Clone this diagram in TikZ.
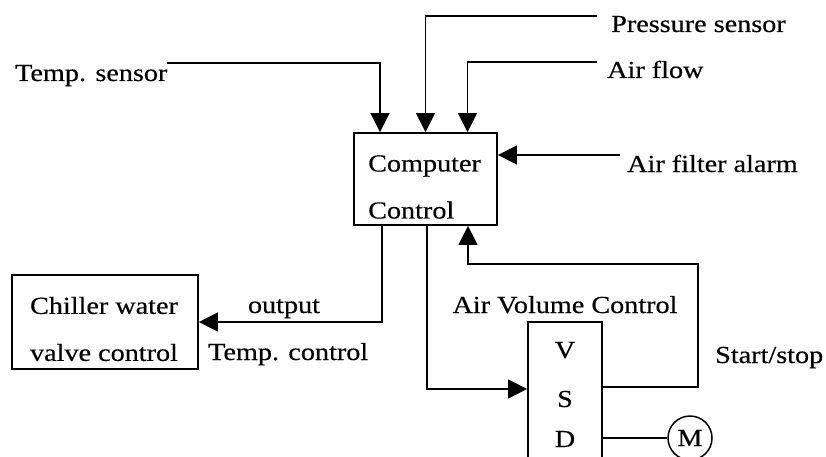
\documentclass[tikz,border=0pt]{standalone}
\usepackage{fontspec}
\setmainfont{Liberation Serif}[FakeStretch=1.15,FakeBold=0.4]
\usetikzlibrary{arrows.meta}
\begin{document}
\begin{tikzpicture}[x=1pt,y=-1pt,
  font=\fontsize{24.5}{28}\selectfont,
  box/.style={draw, line width=1.8pt, inner sep=0pt},
  lbl/.style={inner sep=0pt},
  arr/.style={line width=1.5pt, -{Triangle[length=19pt,width=19pt]}},
  wire/.style={line width=1.5pt}]
\useasboundingbox (0,0) rectangle (826,457);
\clip (0,0) rectangle (826,457);
% boxes
\node[box, minimum width=143pt, minimum height=92pt] (cc) at (425.5,179) {};
\node[lbl, align=left, anchor=west, font=\fontsize{24.5}{47}\selectfont] (cct) at (368,187) {Computer\\Control};
\node[box, minimum width=186pt, minimum height=94pt] (ch) at (105,322) {};
\node[lbl, align=center, font=\fontsize{24.5}{47}\selectfont] (cht) at (104,329) {Chiller water\\valve control};
\node[box, minimum width=74pt, minimum height=178pt] (vsd) at (565,411) {};
\node[lbl, anchor=base] (v1) at (565,358) {V};
\node[lbl, anchor=base] (v2) at (565,407) {S};
\node[lbl, anchor=base] (v3) at (565,447) {D};
\node[draw, circle, line width=1.5pt, minimum size=44pt, inner sep=0pt] (m) at (690,438) {M};
% labels
\node[lbl, anchor=base west] (ts) at (15,81) {Temp. sensor};
\node[lbl, anchor=base west] (ps) at (611,32) {Pressure sensor};
\node[lbl, anchor=base west] (af) at (607,78) {Air flow};
\node[lbl, anchor=base west] (fa) at (627,172) {Air filter alarm};
\node[lbl, anchor=base] (out) at (284,313) {output};
\node[lbl, anchor=base west] (tc) at (208,360) {Temp. control};
\node[lbl, anchor=base] (avc) at (565,313) {Air Volume Control};
\node[lbl, anchor=base west] (ss) at (715,363) {Start/stop};
% connector ends
\coordinate (tsE) at (167,63);
\coordinate (psE) at (597,16);
\coordinate (afE) at (597,62);
\coordinate (faE) at (620,155);
\coordinate (fb) at (698,264);
% connectors
\draw[arr] (tsE) -| ([xshift=-45.5pt]cc.north);
\draw[arr] (psE) -| (cc.north);
\draw[arr] (afE) -| ([xshift=42pt]cc.north);
\draw[arr] (faE) -- (cc.east |- faE);
\draw[arr] ([xshift=-43.5pt]cc.south) |- (ch.east);
\draw[arr] ([xshift=1.5pt]cc.south) |- ([yshift=22pt]vsd.west);
\draw[arr] ([yshift=24pt]vsd.east) -| (fb) -| ([xshift=42.5pt]cc.south);
\draw[wire] ([yshift=-27pt]vsd.east) -- (m.west);
\end{tikzpicture}
\end{document}
